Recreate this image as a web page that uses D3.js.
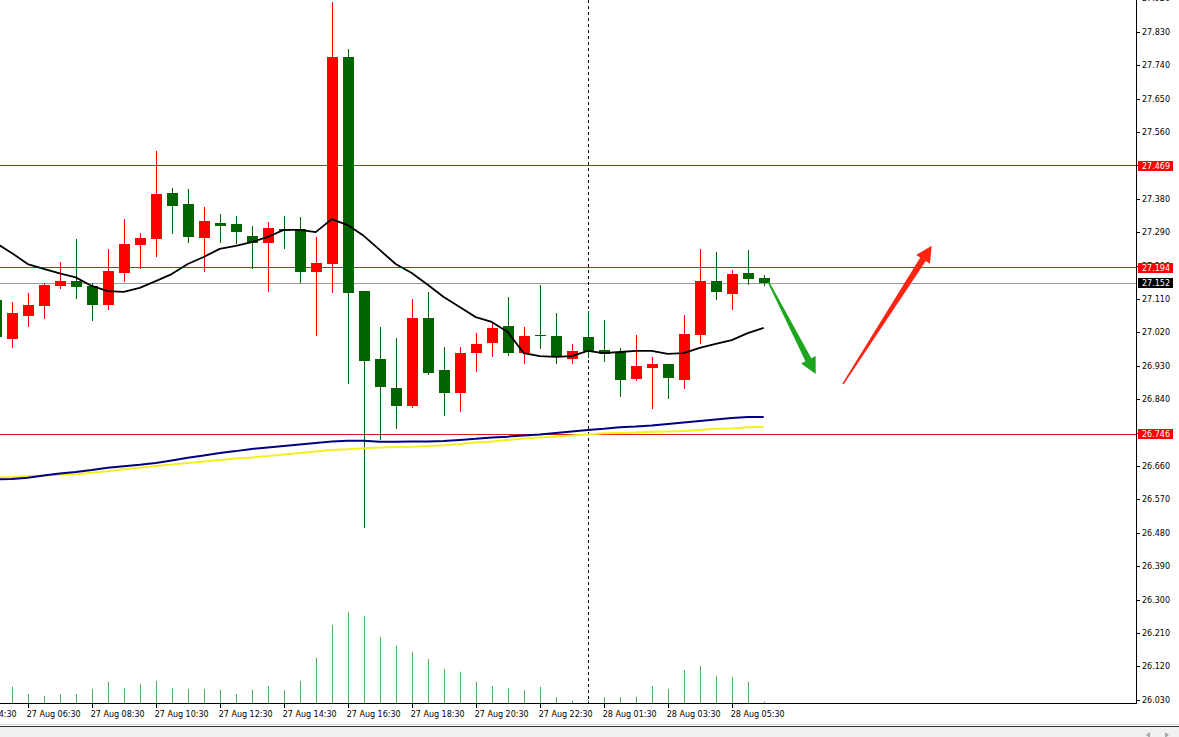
<!DOCTYPE html>
<html><head><meta charset="utf-8">
<script src="https://cdn.jsdelivr.net/npm/d3@7"></script>
<style>html,body{margin:0;padding:0;background:#fff;overflow:hidden}text{font-family:"DejaVu Sans",sans-serif;font-size:8px}</style>
</head><body><svg id="c" width="1179" height="737"></svg>
<script>
// ---- DATA ----
const categories = ["27 Aug 04:30","27 Aug 05:00","27 Aug 05:30","27 Aug 06:00","27 Aug 06:30","27 Aug 07:00","27 Aug 07:30","27 Aug 08:00","27 Aug 08:30","27 Aug 09:00","27 Aug 09:30","27 Aug 10:00","27 Aug 10:30","27 Aug 11:00","27 Aug 11:30","27 Aug 12:00","27 Aug 12:30","27 Aug 13:00","27 Aug 13:30","27 Aug 14:00","27 Aug 14:30","27 Aug 15:00","27 Aug 15:30","27 Aug 16:00","27 Aug 16:30","27 Aug 17:00","27 Aug 17:30","27 Aug 18:00","27 Aug 18:30","27 Aug 19:00","27 Aug 19:30","27 Aug 20:00","27 Aug 20:30","27 Aug 21:00","27 Aug 21:30","27 Aug 22:00","27 Aug 22:30","27 Aug 23:00","27 Aug 23:30","28 Aug 01:00","28 Aug 01:30","28 Aug 02:00","28 Aug 02:30","28 Aug 03:00","28 Aug 03:30","28 Aug 04:00","28 Aug 04:30","28 Aug 05:00","28 Aug 05:30","28 Aug 06:00","28 Aug 06:30"];
const open  = [null,null,27.107,27.002,27.064,27.091,27.145,27.158,27.145,27.094,27.180,27.255,27.271,27.395,27.366,27.274,27.315,27.312,27.280,27.261,27.298,27.298,27.183,27.204,27.762,27.131,26.948,26.870,26.822,27.059,26.919,26.857,26.964,26.991,27.037,26.964,27.013,27.010,26.948,27.007,26.972,26.967,26.894,26.924,26.935,26.892,27.013,27.158,27.123,27.180,27.166];
const high  = [null,null,27.134,27.102,27.126,27.153,27.210,27.271,27.153,27.245,27.325,27.288,27.509,27.409,27.406,27.358,27.339,27.333,27.307,27.317,27.333,27.331,27.277,27.910,27.783,27.131,27.034,27.005,27.110,27.129,26.981,26.981,27.018,27.045,27.115,27.034,27.148,27.072,26.989,27.078,27.053,26.978,27.013,26.954,26.935,27.067,27.245,27.237,27.188,27.242,27.175];
const low   = [null,null,26.986,26.981,27.037,27.059,27.140,27.113,27.053,27.083,27.158,27.193,27.226,27.288,27.263,27.185,27.263,27.261,27.193,27.131,27.247,27.156,27.013,27.129,26.884,26.496,26.733,26.762,26.819,26.908,26.797,26.808,26.916,26.956,26.959,26.937,26.978,26.937,26.937,26.954,26.943,26.849,26.892,26.816,26.843,26.870,26.991,27.110,27.083,27.150,27.148];
const close = [null,null,27.007,27.072,27.094,27.148,27.158,27.142,27.094,27.185,27.258,27.274,27.393,27.360,27.277,27.320,27.307,27.290,27.261,27.301,27.293,27.183,27.207,27.762,27.126,26.943,26.873,26.822,27.059,26.911,26.857,26.964,26.989,27.032,26.964,27.010,27.010,26.954,26.970,26.970,26.962,26.892,26.929,26.935,26.897,27.016,27.158,27.129,27.177,27.164,27.152];
const volume = [null,null,null,410,225,175,218,225,350,533,375,475,550,375,350,350,333,225,333,425,318,550,1133,1950,2275,2175,1650,1433,1283,1100,850,783,533,425,375,318,408,143,58,75,143,143,158,425,350,825,925,675,650,533,33];
const maFast = [null,null,27.261,27.234,27.204,27.191,27.179,27.168,27.145,27.131,27.129,27.140,27.158,27.177,27.204,27.223,27.245,27.253,27.263,27.277,27.296,27.296,27.290,27.325,27.309,27.280,27.242,27.204,27.180,27.148,27.115,27.088,27.061,27.048,27.021,26.964,26.956,26.954,26.956,26.970,26.964,26.967,26.970,26.970,26.962,26.964,26.978,26.989,26.999,27.018,27.032];
const maBlue = [null,null,26.624,26.625,26.628,26.634,26.640,26.644,26.649,26.655,26.659,26.663,26.668,26.675,26.682,26.688,26.695,26.700,26.706,26.710,26.714,26.718,26.722,26.726,26.728,26.728,26.725,26.725,26.726,26.726,26.727,26.730,26.733,26.737,26.739,26.742,26.745,26.749,26.753,26.757,26.760,26.764,26.766,26.769,26.773,26.777,26.781,26.785,26.789,26.792,26.792];
const maYellow = [null,null,26.629,26.630,26.633,26.634,26.636,26.638,26.642,26.646,26.651,26.655,26.660,26.664,26.668,26.672,26.676,26.680,26.683,26.687,26.691,26.695,26.699,26.703,26.705,26.708,26.710,26.711,26.712,26.714,26.716,26.719,26.723,26.726,26.730,26.734,26.737,26.739,26.742,26.745,26.748,26.749,26.750,26.752,26.753,26.754,26.757,26.760,26.761,26.764,26.765];
const levels = [27.469, 27.194, 26.746];
const bid = 27.152;
const priceTicks = ["26.030","26.120","26.210","26.300","26.390","26.480","26.570","26.660","26.750","26.840","26.930","27.020","27.110","27.200","27.290","27.380","27.470","27.560","27.650","27.740","27.830","27.920"];
const timeTicks = ["27 Aug 04:30","27 Aug 06:30","27 Aug 08:30","27 Aug 10:30","27 Aug 12:30","27 Aug 14:30","27 Aug 16:30","27 Aug 18:30","27 Aug 20:30","27 Aug 22:30","28 Aug 01:30","28 Aug 03:30","28 Aug 05:30"];
const daySeparator = "28 Aug 01:00";
// arrows: [bar position, price] -> [bar position, price]
const arrows = [
  {from:[50.3, 27.155], to:[53.25, 26.908], color:"#1ea51e"},
  {from:[54.96, 26.881], to:[60.5, 27.253], color:"#ff2412"}
];

// ---- CHART ----
const svg = d3.select("#c");
const plotR = 1136, plotB = 703;
const x = d3.scaleLinear().domain([0, categories.length-1]).range([-36.3, 763.7]);
const y = d3.scaleLinear().domain([26.03, 27.83]).range([699.8, 31.7]);
const yv = d3.scaleLinear().domain([0, 2500]).range([plotB, plotB-100]);
const px = v => Math.round(v) + 0.5;

svg.append("rect").attr("width",1179).attr("height",737).attr("fill","#fff");
svg.append("defs").append("clipPath").attr("id","clip").append("rect")
  .attr("x",0).attr("y",0).attr("width",plotR).attr("height",plotB);
const g = svg.append("g").attr("clip-path","url(#clip)");

// levels
g.selectAll(".lvl").data(levels).join("line")
  .attr("x1",0).attr("x2",plotR).attr("y1",d=>Math.floor(y(d))+0.5).attr("y2",d=>Math.floor(y(d))+0.5)
  .attr("stroke","#dd1a1a").attr("stroke-width",1);
g.append("line").attr("x1",0).attr("x2",plotR).attr("y1",Math.floor(y(bid))+0.5).attr("y2",Math.floor(y(bid))+0.5)
  .attr("stroke","#9a9a9a").attr("stroke-width",1);

// volumes
const idx = d3.range(categories.length);
g.selectAll(".vol").data(idx.filter(i=>volume[i]!=null)).join("line")
  .attr("x1",i=>px(x(i))).attr("x2",i=>px(x(i))).attr("y1",plotB).attr("y2",i=>yv(volume[i]))
  .attr("stroke","#4fae4f").attr("stroke-width",1);

// separator
const sx = px(x(categories.indexOf(daySeparator)));
g.append("line").attr("x1",sx).attr("x2",sx).attr("y1",0).attr("y2",plotB)
  .attr("stroke","#000").attr("stroke-dasharray","3,3").attr("stroke-width",1);

// candles
const cIdx = idx.filter(i=>open[i]!=null);
const col = i => close[i] >= open[i] ? "#ff0000" : "#006400";
g.selectAll(".wick").data(cIdx).join("line")
  .attr("x1",i=>px(x(i))).attr("x2",i=>px(x(i)))
  .attr("y1",i=>Math.round(y(high[i]))).attr("y2",i=>Math.round(y(low[i]))+1)
  .attr("stroke",col).attr("stroke-width",1);
g.selectAll(".body").data(cIdx).join("rect")
  .attr("x",i=>Math.round(x(i))-5).attr("width",11)
  .attr("y",i=>Math.round(y(Math.max(open[i],close[i]))))
  .attr("height",i=>Math.max(1, Math.round(y(Math.min(open[i],close[i])))-Math.round(y(Math.max(open[i],close[i])))))
  .attr("fill",col).attr("shape-rendering","crispEdges");

// moving averages
function ma(arr, color, w){
  const line = d3.line().defined(i=>arr[i]!=null).x(i=>x(i)).y(i=>y(arr[i]));
  g.append("path").attr("d",line(idx)).attr("fill","none").attr("stroke",color).attr("stroke-width",w).attr("stroke-linejoin","round");
}
ma(maYellow,"#f4f020",2);
ma(maBlue,"#000080",2);
ma(maFast,"#000000",1.8);

// arrows
arrows.forEach(a=>{
  const x0=x(a.from[0]), y0=y(a.from[1]), x1=x(a.to[0]), y1=y(a.to[1]);
  const dx=x1-x0, dy=y1-y0, L=Math.hypot(dx,dy), ux=dx/L, uy=dy/L, nx=-uy, ny=ux;
  const hl=16, hw=8.2, sw=3.3, tw=0.8;
  const bx=x1-ux*hl, by=y1-uy*hl;
  const pts=[[x0+nx*tw,y0+ny*tw],[bx+nx*sw,by+ny*sw],[bx+nx*hw,by+ny*hw],[x1,y1],[bx-nx*hw,by-ny*hw],[bx-nx*sw,by-ny*sw],[x0-nx*tw,y0-ny*tw]];
  g.append("path").attr("d","M"+pts.map(p=>p.join(",")).join("L")+"Z").attr("fill",a.color);
});

// right axis
svg.append("line").attr("x1",plotR+0.5).attr("x2",plotR+0.5).attr("y1",0).attr("y2",plotB+1).attr("stroke","#000");
svg.append("line").attr("x1",0).attr("x2",plotR+1).attr("y1",plotB+0.5).attr("y2",plotB+0.5).attr("stroke","#000");
priceTicks.forEach(t=>{
  const yy=y(+t);
  svg.append("line").attr("x1",plotR).attr("x2",plotR+4).attr("y1",Math.round(yy)+0.5).attr("y2",Math.round(yy)+0.5).attr("stroke","#000");
  svg.append("text").attr("x",plotR+6).attr("y",yy+3).attr("fill","#000").text(t);
});
function priceLabel(v, bg){
  const yy=y(v);
  svg.append("rect").attr("x",plotR+2).attr("y",Math.round(yy)-5).attr("width",35).attr("height",10).attr("fill",bg);
  svg.append("text").attr("x",plotR+6).attr("y",yy+3).attr("fill","#fff").text(v.toFixed(3));
}
levels.forEach(v=>priceLabel(v,"#ff0000"));
priceLabel(bid,"#000");

// bottom axis
timeTicks.forEach(t=>{
  const xx=x(categories.indexOf(t) >= 0 ? categories.indexOf(t) : 0);
  svg.append("line").attr("x1",px(xx)).attr("x2",px(xx)).attr("y1",plotB).attr("y2",plotB+5).attr("stroke","#000");
  svg.append("text").attr("x",xx-1).attr("y",717).attr("fill","#000").text(t);
});

// bottom window strip
svg.append("line").attr("x1",0).attr("x2",1179).attr("y1",724.5).attr("y2",724.5).attr("stroke","#d8d8d8");
svg.append("rect").attr("x",0).attr("y",726).attr("width",1179).attr("height",11).attr("fill","#f0f0f0");
svg.append("line").attr("x1",0).attr("x2",1179).attr("y1",726.5).attr("y2",726.5).attr("stroke","#333");
svg.append("path").attr("d","M1150,732L1146,735L1150,738Z").attr("fill","#a8a8a8");
svg.append("path").attr("d","M1165,732L1169,735L1165,738Z").attr("fill","#a8a8a8");
</script></body></html>
